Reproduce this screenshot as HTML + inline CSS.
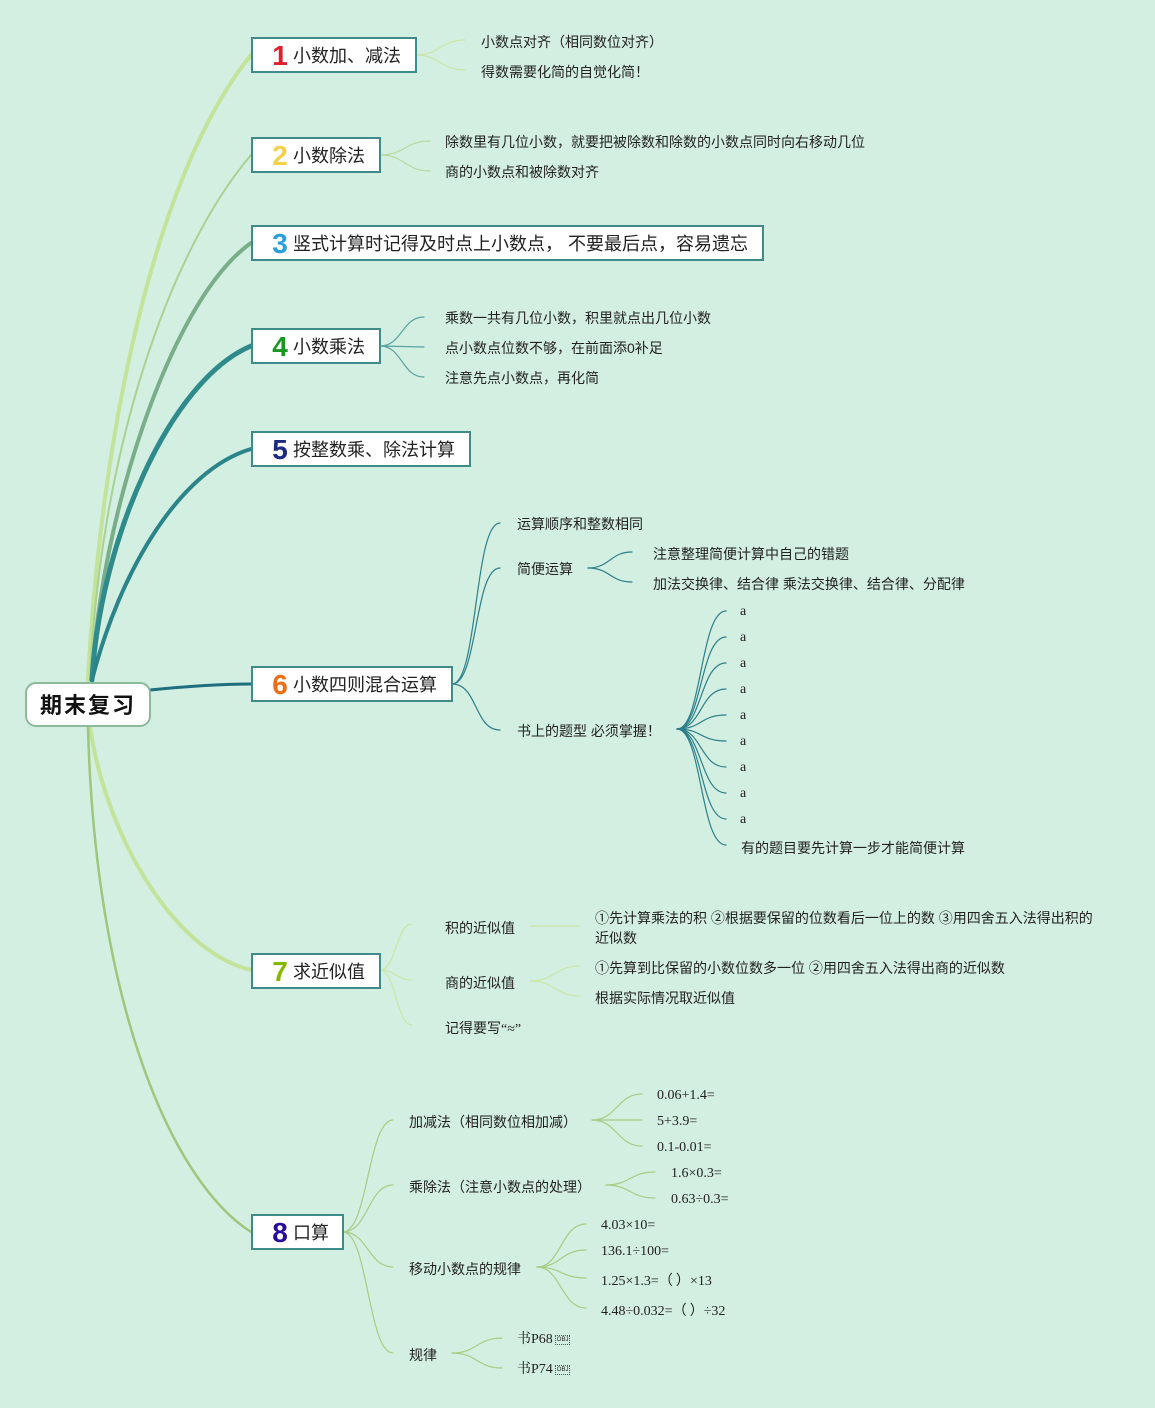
<!DOCTYPE html>
<html><head><meta charset="utf-8">
<style>
html,body{margin:0;padding:0;}
body{width:1155px;height:1408px;position:relative;overflow:hidden;background:#d3efe1;font-family:"Liberation Sans","Noto Sans CJK SC",sans-serif;color:#222;}
svg{position:absolute;left:0;top:0;}
.node{position:absolute;background:#fff;border:2px solid #3f8b89;box-sizing:border-box;height:36px;font-size:18px;line-height:35px;white-space:nowrap;padding-left:40px;}
.num{position:absolute;left:16px;top:0;width:22px;text-align:center;font-weight:bold;font-size:28px;line-height:33px;font-family:"Liberation Sans","DejaVu Sans",sans-serif;}
.root{position:absolute;left:25px;top:682px;width:126px;height:45px;box-sizing:border-box;border:2px solid #8bb99a;border-radius:11px;background:#fff;font-weight:bold;font-size:22px;line-height:43px;text-align:center;letter-spacing:2px;color:#111;}
.t{position:absolute;font-size:14px;line-height:20px;height:20px;white-space:nowrap;font-family:"Liberation Sans","Noto Sans CJK SC",sans-serif;}
.s{font-family:"Liberation Serif","Noto Serif CJK SC",serif;font-size:14px;}
.fw{font-family:"Noto Sans CJK SC",sans-serif;}
.obj{display:inline-block;font-size:6px;line-height:8px;border:1px dotted #555;padding:0 1px;vertical-align:middle;margin-left:2px;font-family:"Liberation Sans",sans-serif;}
</style></head><body>
<svg width="1155" height="1408" viewBox="0 0 1155 1408" fill="none" stroke-linecap="round">
<path d="M88,680 C100,450 150,180 251,55" stroke="#c3e29a" stroke-width="4"/>
<path d="M90,680 C100,450 170,250 251,155" stroke="#a9d192" stroke-width="2"/>
<path d="M92,680 C100,520 170,300 251,243" stroke="#7aae8a" stroke-width="4"/>
<path d="M92,680 C100,540 170,380 251,346" stroke="#2f8b8b" stroke-width="5"/>
<path d="M92,680 C120,570 180,470 251,449" stroke="#2b8489" stroke-width="4"/>
<path d="M150,690 C190,686 220,684 251,684" stroke="#1d6f80" stroke-width="3"/>
<path d="M90,727 C105,830 170,950 251,970" stroke="#c3e29a" stroke-width="4"/>
<path d="M88,727 C95,1000 170,1180 251,1232" stroke="#9cc77c" stroke-width="2.5"/>
<g stroke="#cbe6a6" stroke-width="1.2">
<path d="M416,55 C440,55 440,40 465,40"/><path d="M416,55 C440,55 440,70 465,70"/>
</g>
<g stroke="#b5da9a" stroke-width="1.2">
<path d="M380,155 C405,155 405,141 430,141"/><path d="M380,155 C405,155 405,171 430,171"/>
</g>
<g stroke="#5aa2a2" stroke-width="1.2">
<path d="M380,346 C402,346 402,317 424,317"/><path d="M380,346 L424,347"/><path d="M380,346 C402,346 402,377 424,377"/>
</g>
<g stroke="#2e7f8a" stroke-width="1.2">
<path d="M452,684 C478,684 474,523 500,523"/><path d="M452,684 C478,684 474,568 500,568"/><path d="M452,684 C478,684 474,730 500,730"/>
<path d="M588,568 C610,568 610,552 632,552"/><path d="M588,568 C610,568 610,582 632,582"/>
<path d="M677,729 C702,729 700,611 726,611"/>
<path d="M677,729 C702,729 700,637 726,637"/>
<path d="M677,729 C702,729 700,663 726,663"/>
<path d="M677,729 C702,729 700,689 726,689"/>
<path d="M677,729 C702,729 700,715 726,715"/>
<path d="M677,729 C702,729 700,741 726,741"/>
<path d="M677,729 C702,729 700,767 726,767"/>
<path d="M677,729 C702,729 700,793 726,793"/>
<path d="M677,729 C702,729 700,819 726,819"/>
<path d="M677,729 C702,729 700,845 726,845"/>
</g>
<g stroke="#cbe6a6" stroke-width="1.2">
<path d="M380,970 C396,970 396,924 412,924"/><path d="M380,970 C396,970 396,980 412,980"/><path d="M380,970 C396,970 396,1025 412,1025"/>
<path d="M530,926 L580,926"/>
<path d="M530,981 C555,981 555,966 580,966"/><path d="M530,981 C555,981 555,996 580,996"/>
</g>
<g stroke="#a8cc84" stroke-width="1.2">
<path d="M343,1232 C368,1232 368,1120 393,1120"/><path d="M343,1232 C368,1232 368,1185 393,1185"/><path d="M343,1232 C368,1232 368,1267 393,1267"/><path d="M343,1232 C368,1232 368,1353 393,1353"/>
<path d="M592,1120 C617,1120 617,1094 642,1094"/><path d="M592,1120 L642,1120"/><path d="M592,1120 C617,1120 617,1146 642,1146"/>
<path d="M606,1185 C630,1185 630,1172 655,1172"/><path d="M606,1185 C630,1185 630,1198 655,1198"/>
<path d="M537,1267 C561,1267 561,1224 586,1224"/><path d="M537,1267 C561,1267 561,1250 586,1250"/><path d="M537,1267 C561,1267 561,1278 586,1278"/><path d="M537,1267 C561,1267 561,1308 586,1308"/>
<path d="M452,1353 C477,1353 477,1338 502,1338"/><path d="M452,1353 C477,1353 477,1368 502,1368"/>
</g>
</svg>

<div class="root">期末复习</div>

<div class="node" style="left:251px;top:37px;width:166px;"><span class="num" style="color:#e0202e">1</span>小数加、减法</div>
<div class="node" style="left:251px;top:137px;width:130px;"><span class="num" style="color:#f4d04a">2</span>小数除法</div>
<div class="node" style="left:251px;top:225px;width:513px;"><span class="num" style="color:#2b9fdc">3</span>竖式计算时记得及时点上小数点， 不要最后点，容易遗忘</div>
<div class="node" style="left:251px;top:328px;width:130px;"><span class="num" style="color:#17991f">4</span>小数乘法</div>
<div class="node" style="left:251px;top:431px;width:220px;"><span class="num" style="color:#1c2a82">5</span>按整数乘、除法计算</div>
<div class="node" style="left:251px;top:666px;width:202px;"><span class="num" style="color:#f26c12">6</span>小数四则混合运算</div>
<div class="node" style="left:251px;top:953px;width:130px;"><span class="num" style="color:#86b800">7</span>求近似值</div>
<div class="node" style="left:251px;top:1214px;width:93px;"><span class="num" style="color:#2a0a9c">8</span>口算</div>

<div class="t" style="left:481px;top:32px;">小数点对齐（相同数位对齐）</div>
<div class="t" style="left:481px;top:62px;">得数需要化简的自觉化简<span class="fw">！</span></div>
<div class="t" style="left:445px;top:132px;">除数里有几位小数，就要把被除数和除数的小数点同时向右移动几位</div>
<div class="t" style="left:445px;top:162px;">商的小数点和被除数对齐</div>
<div class="t" style="left:445px;top:308px;">乘数一共有几位小数，积里就点出几位小数</div>
<div class="t" style="left:445px;top:338px;">点小数点位数不够，在前面添0补足</div>
<div class="t" style="left:445px;top:368px;">注意先点小数点，再化简</div>

<div class="t" style="left:517px;top:514px;">运算顺序和整数相同</div>
<div class="t" style="left:517px;top:559px;">简便运算</div>
<div class="t" style="left:653px;top:544px;">注意整理简便计算中自己的错题</div>
<div class="t" style="left:653px;top:574px;">加法交换律、结合律 乘法交换律、结合律、分配律</div>
<div class="t" style="left:517px;top:721px;">书上的题型 必须掌握<span class="fw">！</span></div>
<div class="t s" style="left:740px;top:602px;">a</div>
<div class="t s" style="left:740px;top:628px;">a</div>
<div class="t s" style="left:740px;top:654px;">a</div>
<div class="t s" style="left:740px;top:680px;">a</div>
<div class="t s" style="left:740px;top:706px;">a</div>
<div class="t s" style="left:740px;top:732px;">a</div>
<div class="t s" style="left:740px;top:758px;">a</div>
<div class="t s" style="left:740px;top:784px;">a</div>
<div class="t s" style="left:740px;top:810px;">a</div>
<div class="t" style="left:741px;top:838px;">有的题目要先计算一步才能简便计算</div>

<div class="t" style="left:445px;top:918px;">积的近似值</div>
<div class="t" style="left:595px;top:908px;">①先计算乘法的积 ②根据要保留的位数看后一位上的数 ③用四舍五入法得出积的</div>
<div class="t" style="left:595px;top:928px;">近似数</div>
<div class="t" style="left:445px;top:973px;">商的近似值</div>
<div class="t" style="left:595px;top:958px;">①先算到比保留的小数位数多一位 ②用四舍五入法得出商的近似数</div>
<div class="t" style="left:595px;top:988px;">根据实际情况取近似值</div>
<div class="t" style="left:445px;top:1018px;">记得要写<span class="s">“≈”</span></div>

<div class="t" style="left:409px;top:1112px;">加减法（相同数位相加减）</div>
<div class="t s" style="left:657px;top:1086px;">0.06+1.4=</div>
<div class="t s" style="left:657px;top:1112px;">5+3.9=</div>
<div class="t s" style="left:657px;top:1138px;">0.1-0.01=</div>
<div class="t" style="left:409px;top:1177px;">乘除法（注意小数点的处理）</div>
<div class="t s" style="left:671px;top:1164px;">1.6×0.3=</div>
<div class="t s" style="left:671px;top:1190px;">0.63÷0.3=</div>
<div class="t" style="left:409px;top:1259px;">移动小数点的规律</div>
<div class="t s" style="left:601px;top:1216px;">4.03×10=</div>
<div class="t s" style="left:601px;top:1242px;">136.1÷100=</div>
<div class="t s" style="left:601px;top:1270px;">1.25×1.3=<span class="fw">（ ）</span>×13</div>
<div class="t s" style="left:601px;top:1300px;">4.48÷0.032=<span class="fw">（ ）</span>÷32</div>
<div class="t" style="left:409px;top:1345px;">规律</div>
<div class="t s" style="left:517px;top:1330px;">书P68<span class="obj">OBJ</span></div>
<div class="t s" style="left:517px;top:1360px;">书P74<span class="obj">OBJ</span></div>
</body></html>
